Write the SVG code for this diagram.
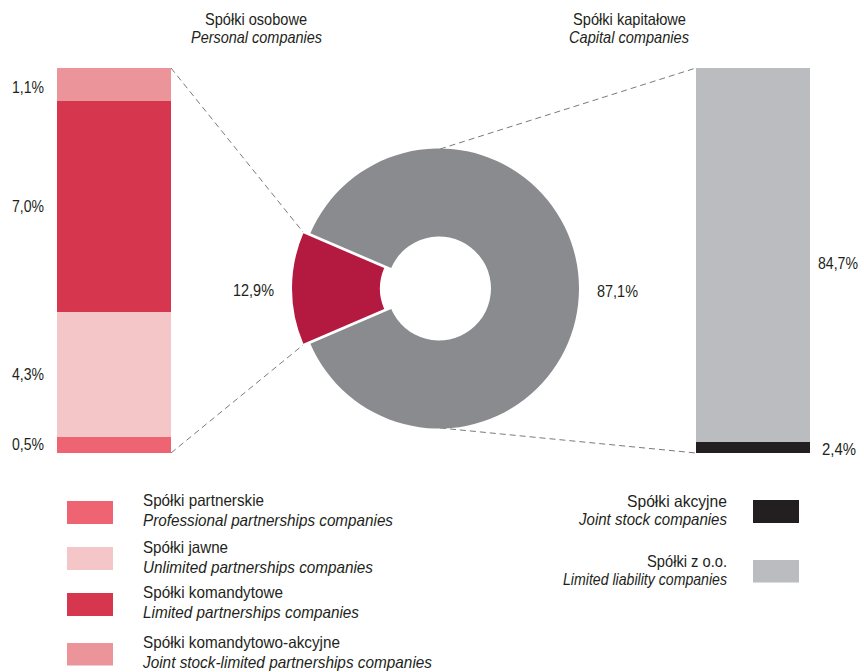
<svg xmlns="http://www.w3.org/2000/svg" width="864" height="672" viewBox="0 0 864 672">
<style>
text{font-family:"Liberation Sans",Arial,sans-serif;font-size:16.5px;fill:#231F20}
.it{font-style:italic}
.dash{fill:none;stroke:#7A7A7C;stroke-width:1;stroke-dasharray:6 4}
</style>
<rect width="864" height="672" fill="#fff"/>
<g id="titles">
<text x="205" y="25" textLength="102" lengthAdjust="spacingAndGlyphs">Spółki osobowe</text>
<text class="it" x="191" y="43" textLength="131" lengthAdjust="spacingAndGlyphs">Personal companies</text>
<text x="573" y="25" textLength="113" lengthAdjust="spacingAndGlyphs">Spółki kapitałowe</text>
<text class="it" x="569" y="43" textLength="120" lengthAdjust="spacingAndGlyphs">Capital companies</text>
</g>
<g id="connectors">
<line class="dash" x1="171" y1="68" x2="303" y2="232"/>
<line class="dash" x1="171" y1="453" x2="303" y2="345"/>
<line class="dash" x1="440" y1="149" x2="696" y2="68"/>
<line class="dash" x1="440" y1="428" x2="696" y2="453"/>
</g>
<g id="personal-bar">
<rect x="57" y="68" width="114" height="33" fill="#EB959B"/>
<rect x="57" y="101" width="114" height="211" fill="#D7364F"/>
<rect x="57" y="312" width="114" height="125" fill="#F4C6C7"/>
<rect x="57" y="437" width="114" height="16" fill="#EE6472"/>
<text x="12" y="92.5" textLength="32" lengthAdjust="spacingAndGlyphs">1,1%</text>
<text x="12" y="212" textLength="32" lengthAdjust="spacingAndGlyphs">7,0%</text>
<text x="12" y="380" textLength="32" lengthAdjust="spacingAndGlyphs">4,3%</text>
<text x="12" y="450" textLength="32" lengthAdjust="spacingAndGlyphs">0,5%</text>
</g>
<g id="donut">
<path d="M 310.34 233.3 A 140 140 0 1 1 310.34 343.7 L 391.21 309 A 52 52 0 1 0 391.21 268 Z" fill="#8A8B8E"/>
<path d="M 303.34 233.3 A 140 140 0 0 0 303.34 343.7 L 384.21 309 A 52 52 0 0 1 384.21 268 Z" fill="#B4193F"/>
<text x="233" y="296" textLength="41" lengthAdjust="spacingAndGlyphs">12,9%</text>
<text x="597" y="296.5" textLength="41" lengthAdjust="spacingAndGlyphs">87,1%</text>
</g>
<g id="capital-bar">
<rect x="696" y="68" width="114" height="374" fill="#BBBCBF"/>
<rect x="696" y="442" width="114" height="11" fill="#231F20"/>
<text x="818" y="269" textLength="40" lengthAdjust="spacingAndGlyphs">84,7%</text>
<text x="822" y="455" textLength="34" lengthAdjust="spacingAndGlyphs">2,4%</text>
</g>
<g id="legend-partnerskie">
<rect x="67" y="501" width="46" height="23" fill="#EE6472"/>
<text x="143" y="506" textLength="121" lengthAdjust="spacingAndGlyphs">Spółki partnerskie</text>
<text class="it" x="143" y="526" textLength="250" lengthAdjust="spacingAndGlyphs">Professional partnerships companies</text>
</g>
<g id="legend-jawne">
<rect x="67" y="547" width="46" height="23" fill="#F4C6C7"/>
<text x="143" y="552.5" textLength="85" lengthAdjust="spacingAndGlyphs">Spółki jawne</text>
<text class="it" x="143" y="572.5" textLength="230" lengthAdjust="spacingAndGlyphs">Unlimited partnerships companies</text>
</g>
<g id="legend-komandytowe">
<rect x="67" y="593" width="46" height="23" fill="#D7364F"/>
<text x="143" y="598" textLength="140" lengthAdjust="spacingAndGlyphs">Spółki komandytowe</text>
<text class="it" x="143" y="617.5" textLength="216" lengthAdjust="spacingAndGlyphs">Limited partnerships companies</text>
</g>
<g id="legend-komandytowo-akcyjne">
<rect x="67" y="643" width="46" height="22.5" fill="#EB959B"/>
<text x="143" y="647.5" textLength="197" lengthAdjust="spacingAndGlyphs">Spółki komandytowo-akcyjne</text>
<text class="it" x="143" y="668" textLength="289" lengthAdjust="spacingAndGlyphs">Joint stock-limited partnerships companies</text>
</g>
<g id="legend-akcyjne">
<rect x="753" y="500" width="46" height="23" fill="#231F20"/>
<text x="627" y="507" textLength="100" lengthAdjust="spacingAndGlyphs">Spółki akcyjne</text>
<text class="it" x="579" y="524.5" textLength="148" lengthAdjust="spacingAndGlyphs">Joint stock companies</text>
</g>
<g id="legend-zoo">
<rect x="753" y="560" width="46" height="22.5" fill="#BBBCBF"/>
<text x="647" y="567" textLength="80" lengthAdjust="spacingAndGlyphs">Spółki z o.o.</text>
<text class="it" x="563" y="584.5" textLength="164" lengthAdjust="spacingAndGlyphs">Limited liability companies</text>
</g>
</svg>
